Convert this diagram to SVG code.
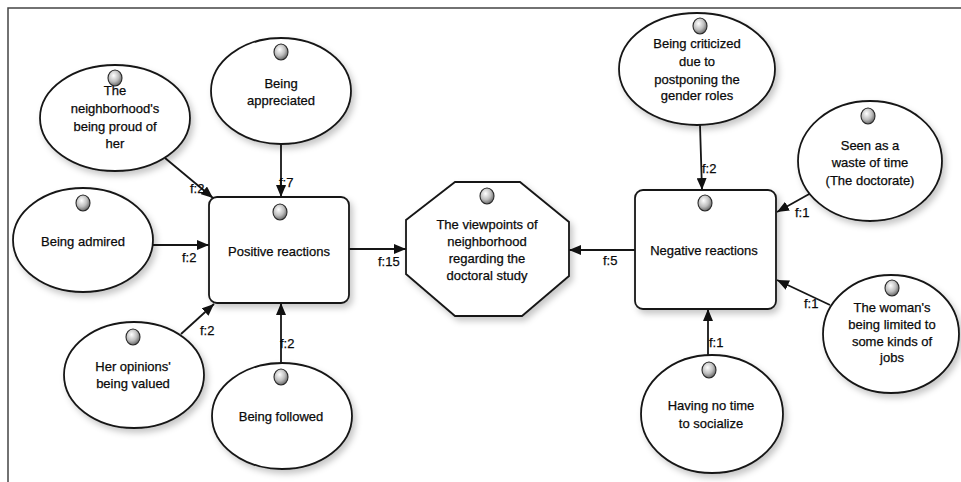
<svg xmlns="http://www.w3.org/2000/svg" width="961" height="482" viewBox="0 0 961 482">
  <style>
    .shape { fill: #ffffff; stroke: #161616; stroke-width: 1.8; filter: url(#shadow); }
    .ball { fill: url(#ballGrad); stroke: #2a2a2a; stroke-width: 1.1; }
    .label { font-family: "Liberation Sans", Arial, sans-serif; font-size: 13px; fill: #0a0a0a; stroke: #0a0a0a; stroke-width: 0.25; text-anchor: middle; }
    .freq { font-family: "Liberation Sans", Arial, sans-serif; font-size: 13px; fill: #0a0a0a; stroke: #0a0a0a; stroke-width: 0.25; }
    .edge { fill: none; stroke: #161616; stroke-width: 1.8; marker-end: url(#arrow); }
    .frame { fill: none; stroke: #444444; stroke-width: 1.5; }
  </style>
  <defs>
    <radialGradient id="ballGrad" cx="0.4" cy="0.35" r="0.7">
      <stop offset="0" stop-color="#ffffff"/>
      <stop offset="0.55" stop-color="#bdbdbd"/>
      <stop offset="1" stop-color="#5a5a5a"/>
    </radialGradient>
    <filter id="shadow" x="-20%" y="-20%" width="150%" height="150%">
      <feDropShadow dx="3" dy="4" stdDeviation="3" flood-color="#000000" flood-opacity="0.22"/>
    </filter>
    <marker id="arrow" viewBox="0 0 12 10" refX="12" refY="5" markerWidth="12" markerHeight="10" markerUnits="userSpaceOnUse" orient="auto">
      <path d="M0,0 L12,5 L0,10 z" fill="#111111"/>
    </marker>
  </defs>

  <rect x="0" y="0" width="961" height="482" fill="#ffffff"/>
  <path class="frame" d="M8,482 L8,8 L961,8"/>

  <!-- connectors -->
  <g id="connectors">
    <line class="edge" x1="165" y1="158" x2="213" y2="198"/>
    <line class="edge" x1="281" y1="144" x2="281" y2="197"/>
    <line class="edge" x1="153" y1="245" x2="209" y2="245"/>
    <line class="edge" x1="181" y1="334" x2="214" y2="304"/>
    <line class="edge" x1="281" y1="363" x2="281" y2="303"/>
    <line class="edge" x1="349" y1="249" x2="406" y2="249"/>
    <line class="edge" x1="635" y1="250" x2="569" y2="250"/>
    <line class="edge" x1="700" y1="125" x2="702" y2="190"/>
    <line class="edge" x1="811" y1="193" x2="777" y2="212"/>
    <line class="edge" x1="830" y1="305" x2="777" y2="280"/>
    <line class="edge" x1="708" y1="355" x2="708" y2="309"/>

    <text class="freq" x="190" y="193">f:2</text>
    <text class="freq" x="279" y="187">f:7</text>
    <text class="freq" x="182" y="262">f:2</text>
    <text class="freq" x="200" y="335">f:2</text>
    <text class="freq" x="280" y="348">f:2</text>
    <text class="freq" x="378" y="266">f:15</text>
    <text class="freq" x="603" y="265">f:5</text>
    <text class="freq" x="702" y="173">f:2</text>
    <text class="freq" x="795" y="217">f:1</text>
    <text class="freq" x="804" y="308">f:1</text>
    <text class="freq" x="709" y="347">f:1</text>
  </g>

  <g id="proud">
    <ellipse class="shape" cx="115" cy="118" rx="75" ry="53"/>
    <text class="label" x="115" y="95">The</text>
    <text class="label" x="115" y="113">neighborhood's</text>
    <text class="label" x="115" y="131">being proud of</text>
    <text class="label" x="115" y="148">her</text>
    <ellipse class="ball" cx="115" cy="78" rx="7" ry="8"/>
  </g>

  <g id="appreciated">
    <ellipse class="shape" cx="281" cy="91" rx="70" ry="53"/>
    <ellipse class="ball" cx="281" cy="52" rx="7" ry="8"/>
    <text class="label" x="281" y="88">Being</text>
    <text class="label" x="281" y="105">appreciated</text>
  </g>

  <g id="admired">
    <ellipse class="shape" cx="83" cy="240" rx="70" ry="52"/>
    <ellipse class="ball" cx="83" cy="203" rx="7" ry="8"/>
    <text class="label" x="83" y="246">Being admired</text>
  </g>

  <g id="opinions">
    <ellipse class="shape" cx="134" cy="375" rx="70" ry="53"/>
    <ellipse class="ball" cx="133" cy="337" rx="7" ry="8"/>
    <text class="label" x="133" y="371">Her opinions'</text>
    <text class="label" x="133" y="388">being valued</text>
  </g>

  <g id="followed">
    <ellipse class="shape" cx="282" cy="416" rx="70" ry="53"/>
    <ellipse class="ball" cx="281" cy="377" rx="7" ry="8"/>
    <text class="label" x="281" y="421">Being followed</text>
  </g>

  <g id="positive">
    <rect class="shape" x="209" y="197" width="140" height="106" rx="8"/>
    <ellipse class="ball" cx="280" cy="212" rx="7" ry="8"/>
    <text class="label" x="279" y="256">Positive reactions</text>
  </g>

  <g id="viewpoints">
    <polygon class="shape" points="455,182 520,182 569,222 569,276 522,316 455,316 406,274 406,220"/>
    <ellipse class="ball" cx="487" cy="196" rx="7" ry="8"/>
    <text class="label" x="487" y="229">The viewpoints of</text>
    <text class="label" x="487" y="246">neighborhood</text>
    <text class="label" x="487" y="263">regarding the</text>
    <text class="label" x="487" y="280">doctoral study</text>
  </g>

  <g id="negative">
    <rect class="shape" x="635" y="190" width="141" height="119" rx="8"/>
    <ellipse class="ball" cx="705" cy="203" rx="7" ry="8"/>
    <text class="label" x="704" y="255">Negative reactions</text>
  </g>

  <g id="criticized">
    <ellipse class="shape" cx="697" cy="69" rx="78" ry="56"/>
    <text class="label" x="697" y="48">Being criticized</text>
    <text class="label" x="697" y="66">due to</text>
    <text class="label" x="697" y="84">postponing the</text>
    <text class="label" x="697" y="100">gender roles</text>
    <ellipse class="ball" cx="700" cy="26" rx="7" ry="8"/>
  </g>

  <g id="waste">
    <ellipse class="shape" cx="870" cy="161" rx="72" ry="60"/>
    <ellipse class="ball" cx="868" cy="116" rx="7" ry="8"/>
    <text class="label" x="870" y="150">Seen as a</text>
    <text class="label" x="870" y="167">waste of time</text>
    <text class="label" x="870" y="185">(The doctorate)</text>
  </g>

  <g id="limited">
    <ellipse class="shape" cx="891" cy="334" rx="68" ry="59"/>
    <ellipse class="ball" cx="892" cy="288" rx="7" ry="8"/>
    <text class="label" x="892" y="312">The woman's</text>
    <text class="label" x="892" y="329">being limited to</text>
    <text class="label" x="892" y="346">some kinds of</text>
    <text class="label" x="892" y="362">jobs</text>
  </g>

  <g id="socialize">
    <ellipse class="shape" cx="712" cy="414" rx="71" ry="59"/>
    <ellipse class="ball" cx="709" cy="370" rx="7" ry="8"/>
    <text class="label" x="711" y="410">Having no time</text>
    <text class="label" x="711" y="428">to socialize</text>
  </g>
</svg>
